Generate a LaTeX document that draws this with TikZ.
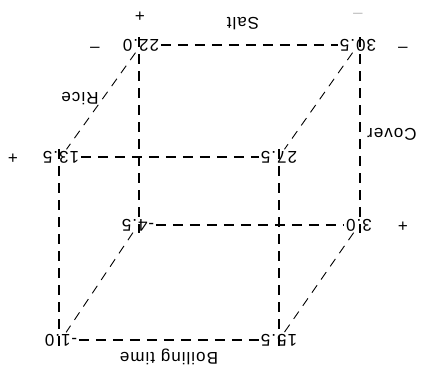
\documentclass[tikz,border=0pt]{standalone}
\usepackage{fontspec}
\newfontfamily\lbl{Liberation Sans}[LetterSpace=6]
\begin{document}
\begin{tikzpicture}[x=1pt,y=1pt,
  every node/.style={font=\lbl\fontsize{17}{20}\selectfont, rotate=180, inner sep=2pt},
  vtx/.style={inner sep=1.5pt},
  edge/.style={line width=1.1pt, dash pattern=on 10pt off 7pt},
  diag/.style={line width=0.9pt, dash pattern=on 9pt off 7pt},
  sign/.style={}]
\useasboundingbox (0,0) rectangle (423,374);
% vertices
\node[vtx] (v22) at (141,329) {22.0};
\node[vtx] (v30) at (358,329) {30.5};
\node[vtx] (v13) at (61,217) {13.5};
\node[vtx] (v27) at (279,217) {27.5};
\node[vtx] (v4)  at (138,149) {-4.5};
\node[vtx] (v3)  at (359,149) {3.0};
\node[vtx] (v1)  at (61,34) {-1.0};
\node[vtx] (v15) at (279,34) {15.5};
% edges
\draw[edge] (v22) -- (v30);
\draw[edge] (v13) -- (v27);
\draw[edge] (v4) -- (v3);
\draw[edge] (v1) -- (v15);
\draw[edge] (v22.south -| 139,0) -- (v4.north -| 139,0);
\draw[edge] (v30.south -| 360,0) -- (v3.north -| 360,0);
\draw[edge] (v13.south -| 59,0) -- (v1.north -| 59,0);
\draw[edge] (v27.south -| 279,0) -- (v15.north -| 279,0);
\draw[diag] (v22) -- (v13);
\draw[diag] (v30) -- (v27);
\draw[diag] (v4) -- (v1);
\draw[diag] (v3) -- (v15);
% level signs
\node[sign] (s1) at (140,359) {+};
\node[sign] (s2) at (95,328) {–};
\node[sign] (s3) at (403,328) {–};
\node[sign, text=black!25] (s4) at (358,362) {–};
\node[sign] (s5) at (13,217) {+};
\node[sign] (s6) at (403,149) {+};
% factor labels
\node (salt) at (243,350) {Salt};
\node (rice) at (80,275) {Rice};
\node (cover) at (392,240) {Cover};
\node (boil) at (169,17) {Boiling time};
\end{tikzpicture}
\end{document}
